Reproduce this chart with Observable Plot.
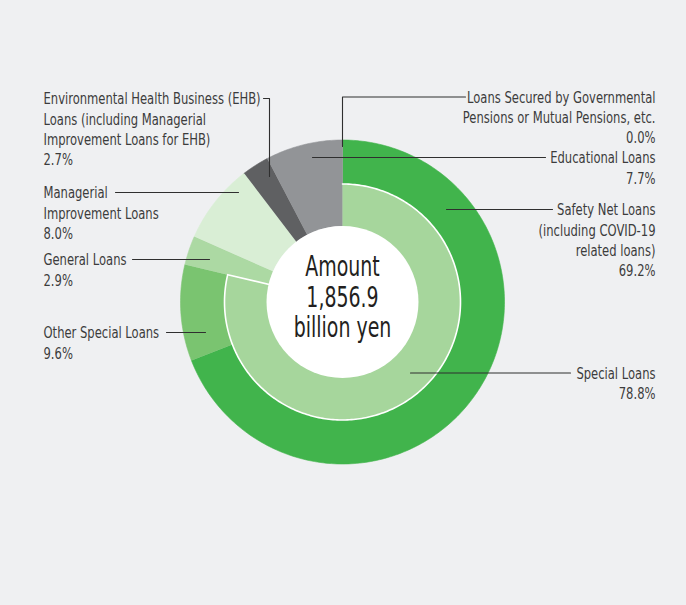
<!DOCTYPE html>
<html>
<head>
<meta charset="utf-8">
<script src="https://cdn.jsdelivr.net/npm/d3@7"></script>
<script src="https://cdn.jsdelivr.net/npm/@observablehq/plot@0.6"></script>
<style>
  html, body { margin: 0; padding: 0; background: #eff0f2; }
  #chart { width: 686px; height: 605px; }
</style>
</head>
<body>
<div id="chart"></div>
<script>
// ---------- data ----------
const outerCategories = [
  "Safety Net Loans\n(including COVID-19\nrelated loans)",
  "Other Special Loans",
  "General Loans",
  "Managerial\nImprovement Loans",
  "Environmental Health Business (EHB)\nLoans (including Managerial\nImprovement Loans for EHB)",
  "Educational Loans",
  "Loans Secured by Governmental\nPensions or Mutual Pensions, etc."
];
const outerShares = [69.2, 9.6, 2.9, 8.0, 2.7, 7.7, 0.0];
const outerParent = ["Special Loans", "Special Loans", null, null, null, null, null];
const innerCategories = ["Special Loans"];
const innerShares = [78.8];
const centerLines = ["Amount", "1,856.9", "billion yen"];

// ---------- layout / style (not data) ----------
const W = 686, H = 605;
const CX = 342, CY = 301.5;
const R_OUT = 162, R_MID = 118, R_HOLE = 76;
const outerColors = ["#41b44c", "#7ac470", "#acd9a3", "#d9eed5", "#5f6062", "#929497", "#929497"];
const innerColors = ["#a6d69c"];
const textColor = "#3c3c3c";
const lineColor = "#2f2f2f";
const FONT = "'DejaVu Sans Condensed', 'Liberation Sans Narrow', sans-serif";
const FS = 16.5;
const LH = 20.2;
const SQUEEZE = 0.78;      // horizontal condensing of label text
const CFS = 28.5, CLH = 30.3, CSQUEEZE = 0.74;

// label placement: text x, leader y (first line middle), anchor, leader path
const labelLayout = [
  {x: 655, y: 209, anchor: "end",   path: [[446, 209], [552, 209]]},
  {x: 43,  y: 332, anchor: "start", path: [[166, 332], [205, 332]]},
  {x: 43,  y: 259, anchor: "start", path: [[132, 259], [209, 259]]},
  {x: 43,  y: 192, anchor: "start", path: [[115, 192], [238, 192]]},
  {x: 43,  y: 98,  anchor: "start", path: [[263, 98], [269, 98], [269, 176]]},
  {x: 655, y: 157, anchor: "end",   path: [[312, 157], [545, 157]]},
  {x: 655, y: 96.5, anchor: "end",  path: [[342, 146], [342, 96.5], [465, 96.5]]}
];
const innerLayout = [
  {x: 655, y: 372.5, anchor: "end", path: [[410, 372.5], [570, 372.5]]}
];

// ---------- geometry from data ----------
const total = d3.sum(outerShares);
function arcPolygon(id, a0, a1, r0, r1) {
  const pts = [];
  const n = Math.max(2, Math.ceil((a1 - a0) / (Math.PI / 180)));
  for (let i = 0; i <= n; i++) {
    const a = a0 + (a1 - a0) * i / n;
    pts.push({id, x: CX + r1 * Math.sin(a), y: CY - r1 * Math.cos(a)});
  }
  for (let i = n; i >= 0; i--) {
    const a = a0 + (a1 - a0) * i / n;
    pts.push({id, x: CX + r0 * Math.sin(a), y: CY - r0 * Math.cos(a)});
  }
  return pts;
}

const outerSlices = [];
let cum = 0;
outerShares.forEach((v, i) => {
  const a0 = cum / total * 2 * Math.PI;
  cum += v;
  const a1 = cum / total * 2 * Math.PI;
  if (v > 0) {
    const r0 = outerParent[i] ? R_MID : R_HOLE;
    outerSlices.push(...arcPolygon("o" + i, a0, a1, r0, R_OUT).map(p => ({...p, color: outerColors[i]})));
  }
});
const innerSlices = [];
let cumI = 0;
innerShares.forEach((v, i) => {
  const a0 = cumI / total * 2 * Math.PI;
  cumI += v;
  const a1 = cumI / total * 2 * Math.PI;
  innerSlices.push(...arcPolygon("i" + i, a0, a1, R_HOLE - 4, R_MID).map(p => ({...p, color: innerColors[i]})));
});

const TOP_OFF = 0.71 * FS - 3.3; // first line centred on the leader
const labels = outerCategories.map((c, i) => ({
  x: labelLayout[i].x, y: labelLayout[i].y - TOP_OFF, anchor: labelLayout[i].anchor,
  text: c + "\n" + outerShares[i].toFixed(1) + "%"
})).concat(innerCategories.map((c, i) => ({
  x: innerLayout[i].x, y: innerLayout[i].y - TOP_OFF, anchor: innerLayout[i].anchor,
  text: c + "\n" + innerShares[i].toFixed(1) + "%"
})));
const leaders = labelLayout.concat(innerLayout).flatMap((l, k) => l.path.map(([x, y]) => ({id: k, x, y})));

const textOpts = {
  x: "x", y: "y", text: "text",
  lineAnchor: "top", lineHeight: LH / FS,
  fontSize: FS, fontFamily: FONT, fill: textColor
};

const plot = Plot.plot({
  width: W, height: H,
  margin: 0,
  style: {background: "#eff0f2", overflow: "visible"},
  x: {domain: [0, W], range: [0, W], axis: null},
  y: {domain: [0, H], range: [0, H], axis: null},
  marks: [
    Plot.line(outerSlices, {x: "x", y: "y", z: "id", fill: "color", stroke: "color", strokeWidth: 0.6}),
    Plot.line(innerSlices, {x: "x", y: "y", z: "id", fill: "color", stroke: "#ffffff", strokeWidth: 1.6}),
    Plot.dot([0], {x: () => CX, y: () => CY, r: R_HOLE, fill: "#ffffff", stroke: "none"}),
    Plot.line(leaders, {x: "x", y: "y", z: "id", stroke: lineColor, strokeWidth: 1.1}),
    Plot.text(labels.filter(d => d.anchor === "start"), {...textOpts, textAnchor: "start"}),
    Plot.text(labels.filter(d => d.anchor === "end"), {...textOpts, textAnchor: "end"}),
    Plot.text([centerLines.join("\n")], {
      x: () => CX, y: () => CY - 27.5 - 0.71 * CFS + 0.5, text: d => d,
      lineAnchor: "top", lineHeight: CLH / CFS,
      fontSize: CFS, fontFamily: FONT, fill: "#231f20"
    })
  ]
});
// condense the label text horizontally (the reference uses a condensed face)
d3.select(plot).selectAll("text").each(function () {
  const big = this.textContent.startsWith("Amount");
  const t = this.getAttribute("transform") || "";
  this.setAttribute("transform", t + ` scale(${big ? CSQUEEZE : SQUEEZE},1)`);
});
document.getElementById("chart").appendChild(plot);
</script>
</body>
</html>
